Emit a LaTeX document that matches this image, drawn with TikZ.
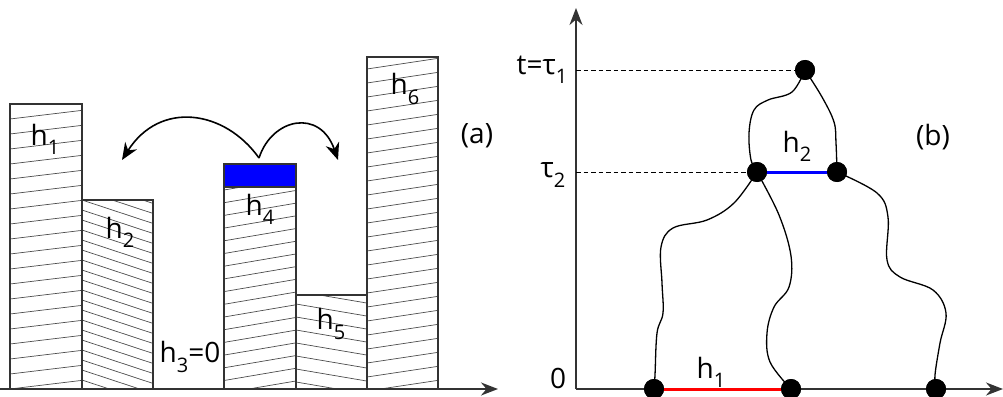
\documentclass[tikz,border=0pt]{standalone}
\usepackage{fontspec}
\setmainfont{Open Sans}
\usetikzlibrary{arrows.meta}
\newcommand\subs[1]{\raisebox{-0.33em}{\fontsize{20}{20}\selectfont #1}}
\newcommand\hatchbar[6]{% x1 ytop x2 slope spacing count
  \begin{scope}
    \clip (#1,#2) rectangle (#3,389);
    \foreach \k in {0,...,#6}{
      \draw[hatchline] (#1,{#2-30+\k*#5}) -- (#3,{#2-30+\k*#5+#4*(#3-#1)});
    }
  \end{scope}
  \draw[barline] (#1,389) -- (#1,#2) -- (#3,#2) -- (#3,389);
}
\begin{document}
\begin{tikzpicture}[x=1pt,y=-1pt,
  hatchline/.style={line width=0.7pt,black!70},
  barline/.style={line width=1.6pt,black!80},
  axisline/.style={line width=2pt,black!80,-{Stealth[length=17pt,width=13pt]}},
  lbl/.style={font=\fontsize{28}{28}\selectfont,inner sep=0pt},
  dot/.style={circle,fill=black,minimum size=20pt,inner sep=0pt},
  wig/.style={line width=1.3pt},
  dashln/.style={line width=1pt,dash pattern=on 4.5pt off 3pt},
  jump/.style={line width=1.6pt,-{Stealth[length=17pt,width=14pt]}}]
\useasboundingbox (0,0) rectangle (1003,396);
% ---------- (a) ----------
\fill[blue] (224,164) rectangle (296,187);
\hatchbar{10}{104}{82}{-0.12}{15}{24}
\hatchbar{82}{200}{153}{0.33}{10}{28}
\begin{scope}
  \clip (224,187) rectangle (296,389);
  \foreach \k in {0,...,20}{
    \draw[hatchline] (224,{190+\k*12.7}) -- (296,{190+\k*12.7-0.17*72});
  }
\end{scope}
\draw[barline] (224,389) -- (224,164) -- (296,164) -- (296,389);
\draw[barline] (224,187) -- (296,187);
\hatchbar{296}{295}{367}{0.17}{13}{12}
\hatchbar{367}{57}{438}{-0.15}{14}{28}
\coordinate (a0) at (0,389);
\coordinate (a1) at (498,389);
\draw[axisline] (a0) -- (a1);
\coordinate (s) at (259,158);
\coordinate (tl) at (122,160);
\coordinate (tr) at (338,160);
\draw[jump] (s) .. controls (225,110) and (160,100) .. (tl);
\draw[jump] (s) .. controls (272,118) and (320,108) .. (tr);
\node[lbl] (h1) at (45,139) {h\subs{1}};
\node[lbl] (h2) at (120,232) {h\subs{2}};
\node[lbl] (h3) at (190,357) {h\subs{3}=0};
\node[lbl] (h4) at (260,209) {h\subs{4}};
\node[lbl] (h5) at (331,324) {h\subs{5}};
\node[lbl] (h6) at (405,89) {h\subs{6}};
\node[lbl] (la) at (477,136) {(a)};
% ---------- (b) ----------
\coordinate (o) at (576,389);
\coordinate (ytop) at (576,8);
\coordinate (xend) at (1003,389);
\draw[axisline] (o) -- (ytop);
\draw[axisline] (o) -- (xend);
\node[dot] (t1) at (805,70) {};
\node[dot] (m1) at (757,172) {};
\node[dot] (m2) at (837,172) {};
\node[dot] (b1) at (654,389) {};
\node[dot] (b2) at (791,389) {};
\node[dot] (b3) at (936,389) {};
\coordinate (y1) at (576,70);
\coordinate (y2) at (576,172);
\draw[dashln] (y1) -- (t1.center);
\draw[dashln] (y2) -- (m1.center);
\draw[red,line width=3pt] (b1.center) -- (b2.center);
\draw[blue,line width=3pt] (m1.center) -- (m2.center);
\draw[wig] plot[smooth,tension=0.6] coordinates {(t1.center) (792,92) (768,100) (754,110) (749,133) (751,160) (m1.center)};
\draw[wig] plot[smooth,tension=0.6] coordinates {(t1.center) (822,97) (834,122) (836,143) (m2.center)};
\draw[wig] plot[smooth,tension=0.6] coordinates {(m1.center) (734,203) (707,220) (673,228) (661,247) (662,283) (663,313) (657,333) (655,375) (b1.center)};
\draw[wig] plot[smooth,tension=0.6] coordinates {(m1.center) (779,215) (791,256) (789,287) (774,307) (767,333) (770,362) (b2.center)};
\draw[wig] plot[smooth,tension=0.6] coordinates {(m2.center) (877,193) (888,217) (887,260) (900,277) (933,290) (946,313) (940,343) (935,375) (b3.center)};
\node[dot] at (t1) {};
\node[dot] at (m1) {};
\node[dot] at (m2) {};
\node[dot] at (b1) {};
\node[dot] at (b2) {};
\node[dot] at (b3) {};
\node[lbl] (lt1) at (542,70) {t=τ\subs{1}};
\node[lbl] (lt2) at (553,175) {τ\subs{2}};
\node[lbl] (l0) at (558,378) {0};
\node[lbl] (hh2) at (797,146) {h\subs{2}};
\node[lbl] (hh1) at (711,372) {h\subs{1}};
\node[lbl] (lb) at (933,137) {(b)};
\end{tikzpicture}
\end{document}
